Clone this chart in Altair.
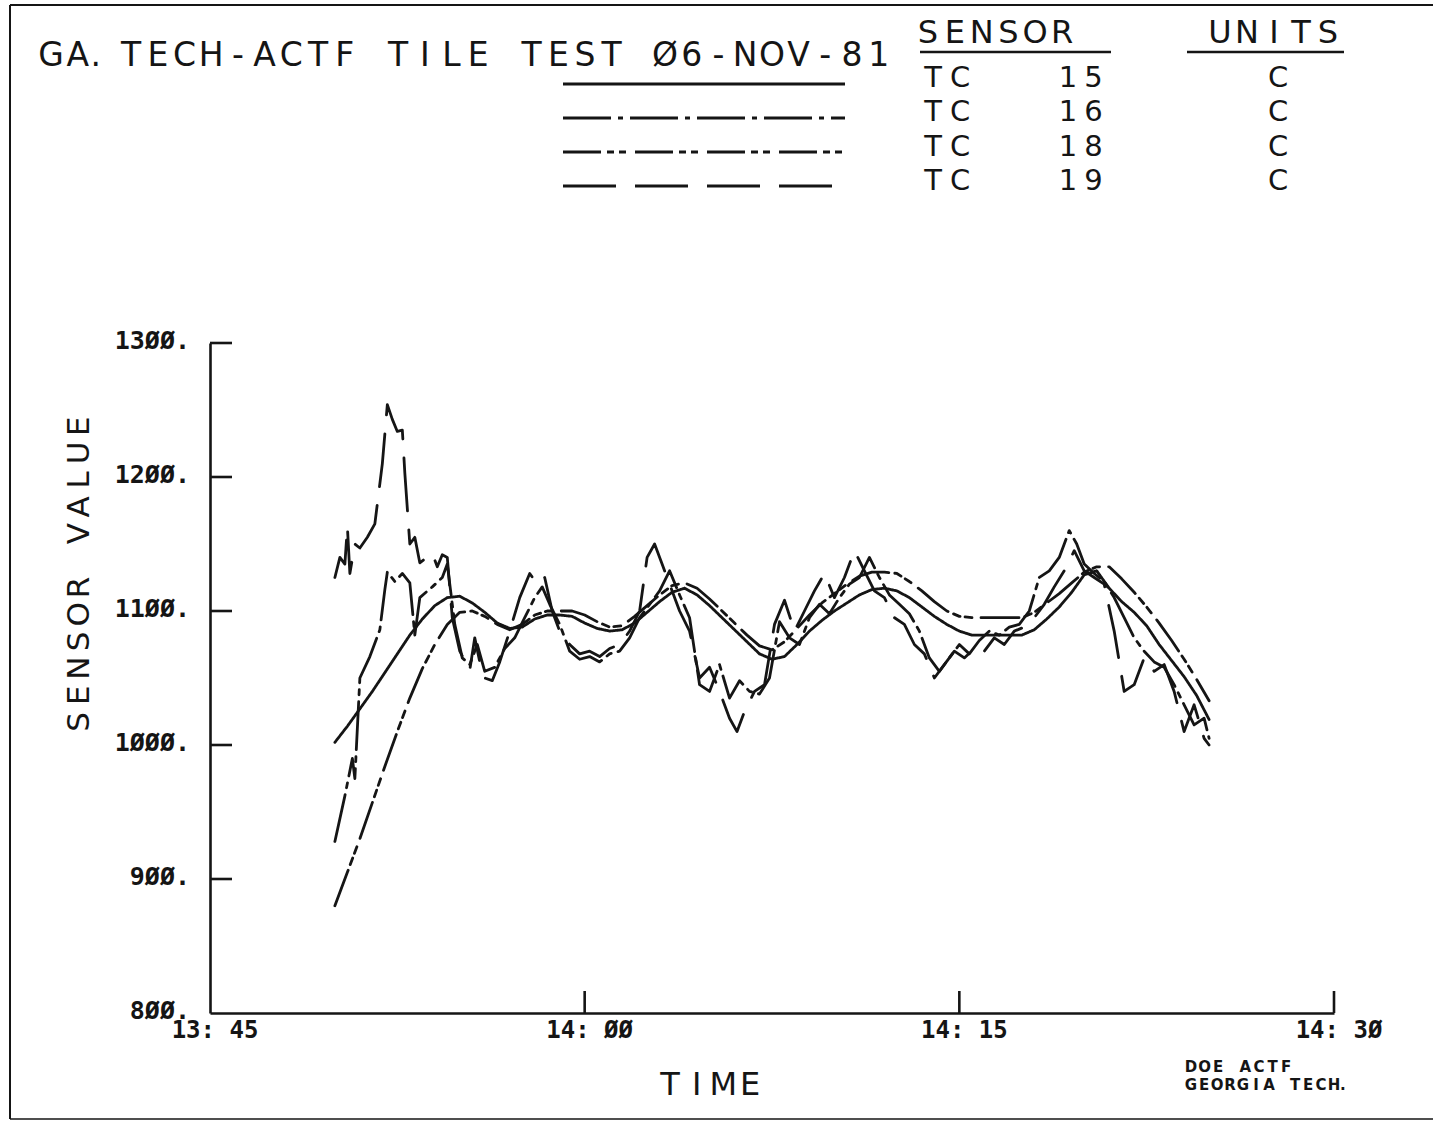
import altair as alt
import pandas as pd

INK = "#151515"

# Page geometry (pixels): the plotting frame sits inside a 1433x1123 sheet
PAGE_W, PAGE_H = 1433, 1123
LEFT, TOP, RIGHT, BOTTOM = 210, 343, 1334, 1013
PLOT_W, PLOT_H = RIGHT - LEFT, BOTTOM - TOP

# ---- axis ticks and labels (x in minutes after 13:45) ----
x_ticks = [0, 15, 30, 45]
x_tick_labels = ["13: 45", "14: ØØ", "14: 15", "14: 3Ø"]
y_ticks = [800, 900, 1000, 1100, 1200, 1300]
y_tick_labels = ["8ØØ.", "9ØØ.", "1ØØØ.", "11ØØ.", "12ØØ.", "13ØØ."]

# ---- legend table ----
sensor_names = ["TC 15", "TC 16", "TC 18", "TC 19"]
sensor_type = ["TC", "TC", "TC", "TC"]
sensor_number = ["15", "16", "18", "19"]
sensor_units = ["C", "C", "C", "C"]

title_text = "GA.TECH-ACTF TILE TEST Ø6-NOV-81"
x_title = "TIME"
y_title = "SENSOR VALUE"
credit_lines = ["DOE ACTF", "GEORGIA TECH."]

# ---- sensor readings ----
# smoothed channels share one time base (minutes after 13:45)
t_smooth = [5.0, 5.5, 6.0, 6.5, 7.0, 7.5, 8.0, 8.5, 9.0, 9.5,
            10.0, 10.5, 11.0, 11.5, 12.0, 12.5, 13.0, 13.5, 14.0, 14.5,
            15.0, 15.5, 16.0, 16.5, 17.0, 17.5, 18.0, 18.5, 19.0, 19.5,
            20.0, 20.5, 21.0, 21.5, 22.0, 22.5, 23.0, 23.5, 24.0, 24.5,
            25.0, 25.5, 26.0, 26.5, 27.0, 27.5, 28.0, 28.5, 29.0, 29.5,
            30.0, 30.5, 31.0, 31.5, 32.0, 32.5, 33.0, 33.5, 34.0, 34.5,
            35.0, 35.5, 36.0, 36.5, 37.0, 37.5, 38.0, 38.5, 39.0, 39.5,
            40.0]
v15 = [1002, 1014, 1027, 1040, 1054, 1068, 1082, 1094, 1104, 1110,
       1111, 1106, 1099, 1091, 1087, 1088, 1094, 1097, 1097, 1096,
       1091, 1087, 1085, 1086, 1091, 1099, 1107, 1114, 1117, 1112,
       1104, 1095, 1086, 1077, 1068, 1064, 1066, 1075, 1085, 1093,
       1100, 1106, 1112, 1116, 1117, 1115, 1110, 1103, 1096, 1090,
       1085, 1082, 1082, 1082, 1082, 1082, 1086, 1094, 1103, 1114,
       1127, 1130, 1117, 1107, 1099, 1089, 1075, 1063, 1051, 1037,
       1019]
v18 = [880, 905, 930, 957, 984, 1010, 1035, 1057, 1075, 1090,
       1099, 1100, 1096, 1090, 1086, 1090, 1097, 1100, 1100, 1100,
       1097, 1092, 1088, 1089, 1096, 1104, 1112, 1119, 1121, 1117,
       1109, 1100, 1091, 1082, 1074, 1071, 1077, 1087, 1097, 1106,
       1113, 1120, 1126, 1129, 1129, 1128, 1122, 1115, 1107, 1100,
       1096, 1095, 1095, 1095, 1095, 1095, 1099, 1106, 1113, 1121,
       1129, 1133, 1133, 1124, 1114, 1103, 1091, 1078, 1064, 1049,
       1033]

t16 = [5.0, 5.4, 5.7, 5.8, 6.0, 6.4, 6.8, 7.0, 7.1, 7.4,
       7.7, 8.0, 8.2, 8.4, 8.9, 9.3, 9.5, 9.8, 10.1, 10.4,
       10.7, 11.0, 11.4, 11.8, 12.2, 12.6, 13.0, 13.3, 13.6, 14.0,
       14.4, 14.8, 15.2, 15.6, 16.0, 16.4, 16.8, 17.2, 17.6, 18.0,
       18.4, 18.8, 19.2, 19.6, 20.0, 20.4, 20.8, 21.2, 21.6, 22.0,
       22.4, 22.8, 23.2, 23.6, 24.0, 24.4, 24.8, 25.2, 25.6, 26.0,
       26.4, 26.8, 27.2, 27.6, 28.0, 28.4, 28.8, 29.2, 29.6, 30.0,
       30.4, 30.8, 31.2, 31.6, 32.0, 32.4, 32.8, 33.2, 33.6, 34.0,
       34.4, 34.7, 35.0, 35.4, 35.8, 36.2, 36.6, 37.0, 37.4, 37.8,
       38.2, 38.6, 39.0, 39.4, 39.8, 40.0]
v16 = [928, 962, 990, 975, 1050, 1066, 1086, 1116, 1129, 1122,
       1128, 1121, 1082, 1110, 1118, 1125, 1135, 1090, 1065, 1060,
       1075, 1055, 1058, 1072, 1080, 1095, 1110, 1118, 1105, 1090,
       1070, 1064, 1066, 1062, 1068, 1070, 1080, 1095, 1105, 1115,
       1130, 1112, 1095, 1045, 1040, 1060, 1035, 1048, 1040, 1038,
       1050, 1092, 1080, 1075, 1095, 1105, 1098, 1110, 1120, 1125,
       1140, 1125, 1112, 1105, 1098, 1085, 1065, 1055, 1065, 1075,
       1068, 1078, 1085, 1082, 1088, 1090, 1100, 1125, 1130, 1140,
       1160, 1150, 1135, 1128, 1122, 1110, 1095, 1080, 1070, 1062,
       1058, 1045, 1030, 1015, 1020, 1005]

t19 = [5.0, 5.2, 5.4, 5.5, 5.6, 5.8, 6.0, 6.3, 6.6, 6.9,
       7.1, 7.3, 7.5, 7.7, 7.8, 8.0, 8.2, 8.4, 8.9, 9.1,
       9.3, 9.5, 9.7, 10.0, 10.4, 10.6, 10.8, 11.0, 11.3, 11.6,
       12.0, 12.4, 12.8, 13.1, 13.4, 13.7, 14.0, 14.4, 14.8, 15.2,
       15.6, 16.0, 16.4, 16.8, 17.2, 17.5, 17.8, 18.1, 18.4, 18.8,
       19.2, 19.6, 20.0, 20.4, 20.8, 21.1, 21.4, 21.8, 22.2, 22.6,
       23.0, 23.4, 23.8, 24.2, 24.6, 25.0, 25.4, 25.8, 26.2, 26.6,
       27.0, 27.4, 27.8, 28.2, 28.6, 29.0, 29.4, 29.8, 30.2, 30.6,
       31.0, 31.4, 31.8, 32.2, 32.6, 33.0, 33.4, 33.8, 34.2, 34.6,
       35.0, 35.4, 35.8, 36.2, 36.6, 37.0, 37.4, 37.8, 38.2, 38.6,
       39.0, 39.4, 39.8, 40.0]
v19 = [1125, 1140, 1135, 1163, 1128, 1150, 1147, 1155, 1165, 1210,
       1254, 1243, 1234, 1235, 1203, 1150, 1155, 1136, 1143, 1133,
       1142, 1140, 1095, 1070, 1056, 1080, 1062, 1050, 1048, 1062,
       1085, 1110, 1128, 1120, 1125, 1100, 1085, 1075, 1068, 1070,
       1066, 1072, 1075, 1085, 1100, 1140, 1150, 1135, 1120, 1100,
       1085, 1050, 1058, 1040, 1020, 1010, 1025, 1040, 1045, 1090,
       1108, 1085, 1100, 1115, 1128, 1110, 1125, 1145, 1130, 1115,
       1110, 1095, 1090, 1075, 1068, 1050, 1060, 1070, 1065, 1072,
       1070, 1080, 1075, 1085, 1088, 1095, 1105, 1118, 1130, 1145,
       1130, 1125, 1120, 1085, 1040, 1045, 1065, 1055, 1060, 1040,
       1010, 1030, 1005, 1000]

# pen patterns for the four channels: solid, dash-dot, dash-dot-dot, long dash
PEN_DASHES = [[1, 0], [48, 7, 5, 7], [38, 6, 7, 5, 7, 9], [53, 19]]
LINE_W = 2.8

series = [(sensor_names[0], t_smooth, v15), (sensor_names[1], t16, v16),
          (sensor_names[2], t_smooth, v18), (sensor_names[3], t19, v19)]
lines_df = pd.concat(
    [pd.DataFrame({"sensor": n, "minute": t, "value": v, "seq": range(len(t))})
     for n, t, v in series],
    ignore_index=True,
)

x_scale = alt.Scale(domain=[0, 45], nice=False, zero=False)
y_scale = alt.Scale(domain=[800, 1300], nice=False, zero=False)
frame_axis = dict(labels=False, ticks=False, grid=False, domainColor=INK, domainWidth=2.6)

traces = alt.Chart(lines_df).mark_line(strokeWidth=LINE_W, color=INK, strokeCap="round",
                                       strokeJoin="round").encode(
    x=alt.X("minute:Q", scale=x_scale, axis=alt.Axis(title=None, **frame_axis)),
    y=alt.Y("value:Q", scale=y_scale, axis=alt.Axis(title=None, **frame_axis)),
    detail="sensor:N",
    order="seq:Q",
    strokeDash=alt.StrokeDash("sensor:N", legend=None,
                              scale=alt.Scale(domain=sensor_names, range=PEN_DASHES)),
)

# inward tick marks
ytick_df = pd.DataFrame({"value": y_ticks[1:]})
y_tick_marks = alt.Chart(ytick_df).mark_rule(color=INK, strokeWidth=2.6).encode(
    y=alt.Y("value:Q", scale=y_scale), x=alt.value(0), x2=alt.value(22))
xtick_df = pd.DataFrame({"minute": x_ticks[1:]})
x_tick_marks = alt.Chart(xtick_df).mark_rule(color=INK, strokeWidth=2.6).encode(
    x=alt.X("minute:Q", scale=x_scale), y=alt.value(PLOT_H), y2=alt.value(PLOT_H - 22))

ylab_df = pd.DataFrame({"value": y_ticks, "label": y_tick_labels})
y_labels = alt.Chart(ylab_df).mark_text(font="DejaVu Sans Mono", fontWeight="bold", fontSize=25,
                                        align="right", baseline="middle", color=INK, dy=-2).encode(
    y=alt.Y("value:Q", scale=y_scale), x=alt.value(-20), text="label:N")
xlab_df = pd.DataFrame({"minute": x_ticks, "label": x_tick_labels})
x_labels = alt.Chart(xlab_df).mark_text(font="DejaVu Sans Mono", fontWeight="bold", fontSize=24,
                                        align="center", baseline="alphabetic", color=INK, dx=5).encode(
    x=alt.X("minute:Q", scale=x_scale), y=alt.value(1038 - TOP), text="label:N")


def lettered(text, first, base, step, size, weight="normal", vertical=False):
    """Plotter-style lettering: one glyph per fixed-width cell, page coordinates.
    A full stop is drawn at the left of its cell, as the pen plotter does."""
    cells = pd.DataFrame({"ch": list(text), "k": list(range(len(text)))})
    if vertical:
        px, py = f"{first[0] - LEFT}", f"{first[1] - TOP} - datum.k * {step}"
    else:
        px = f"{first - LEFT} + datum.k * {step} - (datum.ch == '.' ? {step * 0.32} : 0)"
        py = f"{base - TOP}"
    mark_kw = dict(font="DejaVu Sans", fontSize=size, fontWeight=weight, align="center",
                   baseline="alphabetic", color=INK)
    if vertical:
        mark_kw["angle"] = 270
    return alt.Chart(cells).transform_filter("datum.ch != ' '").transform_calculate(
        px=px, py=py).mark_text(**mark_kw).encode(
        x=alt.X("px:Q", scale=None, axis=None),
        y=alt.Y("py:Q", scale=None, axis=None),
        text="ch:N")


texts = [
    lettered(title_text, 51, 66, 26.7, 33),
    lettered("SENSOR", 928, 43, 26.8, 32),
    lettered("UNITS", 1220, 43, 27.0, 32),
    lettered(x_title, 670, 1095, 26.7, 32),
    lettered(y_title, (89, 722), None, 26.9, 31, vertical=True),
    lettered(credit_lines[0], 1191, 1072, 13.6, 15, weight="bold"),
    lettered(credit_lines[1], 1191, 1090, 13.0, 15, weight="bold"),
]
for i in range(len(sensor_names)):
    base = 87 + 34.3 * i
    texts.append(lettered(sensor_type[i], 933, base, 27.0, 29))
    texts.append(lettered(sensor_number[i], 1068, base, 25.5, 29))
    texts.append(lettered(sensor_units[i], 1278, base, 27.0, 29))


def page_rule(x1, y1, x2, y2, width=2.5, dash=None):
    kw = dict(color=INK, strokeWidth=width)
    if dash is not None:
        kw["strokeDash"] = dash
    return alt.Chart(pd.DataFrame({"k": [0]})).mark_rule(**kw).encode(
        x=alt.value(x1 - LEFT), x2=alt.value(x2 - LEFT),
        y=alt.value(y1 - TOP), y2=alt.value(y2 - TOP))


legend_keys = []
for i, dash in enumerate(PEN_DASHES):
    y = 84 + 34 * i
    x_end = 845 if i < 3 else 835
    legend_keys.append(page_rule(563, y, x_end, y, width=2.8, dash=dash))

decor = [
    page_rule(920, 52, 1111, 52),      # underline SENSOR
    page_rule(1187, 52, 1344, 52),     # underline UNITS
    page_rule(10, 5, PAGE_W, 5, width=2),          # sheet frame, top
    page_rule(10, 5, 10, 1119, width=2),           # sheet frame, left
    page_rule(10, 1119, PAGE_W, 1119, width=1.5),  # sheet frame, bottom
]

chart = alt.layer(
    traces, y_tick_marks, x_tick_marks, y_labels, x_labels, *texts, *legend_keys, *decor
).properties(
    width=PLOT_W, height=PLOT_H,
    padding={"left": LEFT, "top": TOP, "right": PAGE_W - RIGHT, "bottom": PAGE_H - BOTTOM},
    autosize=alt.AutoSizeParams(type="none"),
    background="white",
).configure_view(strokeWidth=0)

chart.save("out.html", embed_options={"renderer": "svg", "actions": False})
